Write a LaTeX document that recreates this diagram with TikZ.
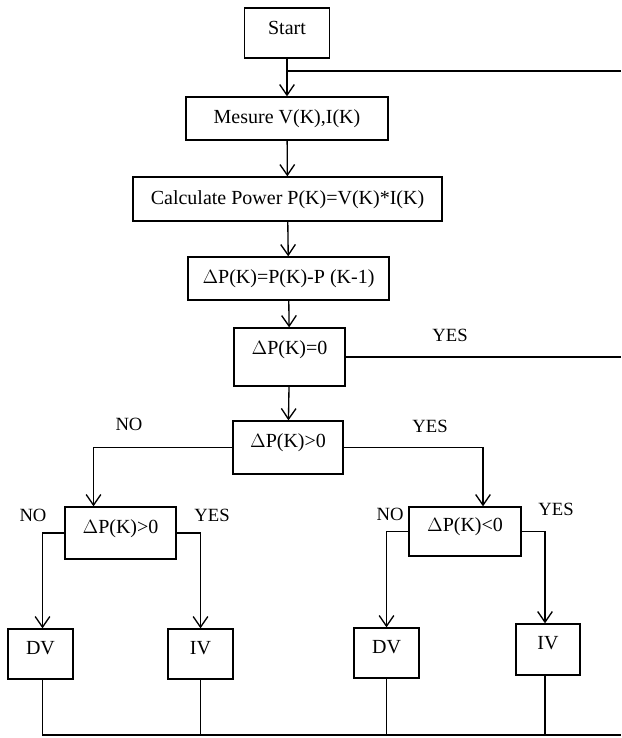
\documentclass[tikz,border=0pt]{standalone}
\usepackage{fontspec}
\setmainfont{Liberation Serif}
\usetikzlibrary{arrows.meta,positioning,calc}

\begin{document}
\begin{tikzpicture}[
    x=0.75pt, y=-0.75pt,
    box/.style={
      draw,
      line width=1pt,
      font=\fontsize{15}{18}\selectfont,
      text height=11pt,
      text depth=3pt,
      align=center
    },
    highbox/.style={box, text depth=11pt},
    lbl/.style={font=\fontsize{14}{17}\selectfont},
    arrow/.style={
      -{Straight Barb[length=8pt,width=11pt]},
      line width=1pt
    },
    wire/.style={line width=1pt}
  ]
  \useasboundingbox (0,0) rectangle (621,738);

  % Main chain
  \node[highbox,text depth=9pt,minimum width=63.75pt,minimum height=37.5pt] (start) at (287,33) {Start};
  \node[box,minimum width=151.5pt,minimum height=32.25pt]     (meas)  at (287,118.5) {Mesure V(K),I(K)};
  \node[box,minimum width=231.75pt,minimum height=33pt]       (power) at (287.5,199) {Calculate Power P(K)=V(K)*I(K)};
  \node[box,minimum width=150.75pt,minimum height=32.25pt]    (delta) at (288.5,278.5) {$\Delta$P(K)=P(K)-P (K-1)};
  \node[box,text depth=15pt,minimum width=83.25pt,minimum height=43.5pt] (zero) at (289.5,357) {$\Delta$P(K)=0};
  \node[highbox,minimum width=82.5pt,minimum height=39.75pt]  (pos)   at (288,447.5) {$\Delta$P(K)>0};

  % Second level tests
  \node[highbox,minimum width=83.25pt,minimum height=39pt]    (posL)  at (120.5,533) {$\Delta$P(K)>0};
  \node[highbox,minimum width=84pt,minimum height=36.75pt]    (negR)  at (465,531.5) {$\Delta$P(K)<0};

  % Voltage steps
  \node[highbox,minimum width=48.75pt,minimum height=37.5pt]  (dvL)   at (40.5,654)  {DV};
  \node[highbox,minimum width=48.75pt,minimum height=37.5pt]  (ivL)   at (200.5,654) {IV};
  \node[highbox,minimum width=48.75pt,minimum height=37.5pt]  (dvR)   at (386.5,653) {DV};
  \node[highbox,minimum width=48pt,minimum height=38.25pt]    (ivR)   at (548,649.5) {IV};

  % Labels
  \node[lbl] (yesZero) at (450,335) {YES};
  \node[lbl] (noPos)   at (129,424) {NO};
  \node[lbl] (yesPos)  at (430,426) {YES};
  \node[lbl] (noL)     at (33,515)  {NO};
  \node[lbl] (yesL)    at (212,515) {YES};
  \node[lbl] (noR)     at (390,514) {NO};
  \node[lbl] (yesR)    at (556,509) {YES};

  % Return lines
  \coordinate (retTop) at (621,71);
  \coordinate (retMid) at (621,357);
  \coordinate (retBot) at (621,735);

  % Arrows
  \draw[arrow] (start) -- (meas);
  \draw[wire]  (start.south |- retTop) -- (retTop);
  \draw[arrow] (meas)  -- (power);
  \draw[arrow] (power) -- (delta);
  \draw[arrow] (delta) -- (zero);
  \draw[wire]  (zero.east) -- (retMid);
  \draw[arrow] (zero)  -- (pos);
  \draw[arrow] (pos.west) -| ($(posL.north)+(-27,0)$);
  \draw[arrow] (pos.east) -| ($(negR.north)+(18,0)$);
  \draw[arrow] (posL.west) -| ($(dvL.north)+(2,0)$);
  \draw[arrow] (posL.east) -| (ivL.north);
  \draw[arrow] (negR.west) -| (dvR.north);
  \draw[arrow] (negR.east) -| ($(ivR.north)+(-3,0)$);

  % Bottom line
  \draw[wire] ($(dvL.south)+(2,0)$) |- (retBot);
  \draw[wire] (ivL.south) -- (ivL.south |- retBot);
  \draw[wire] (dvR.south) -- (dvR.south |- retBot);
  \draw[wire] ($(ivR.south)+(-3,0)$) -- ($(ivR.south |- retBot)+(-3,0)$);

\end{tikzpicture}
\end{document}
